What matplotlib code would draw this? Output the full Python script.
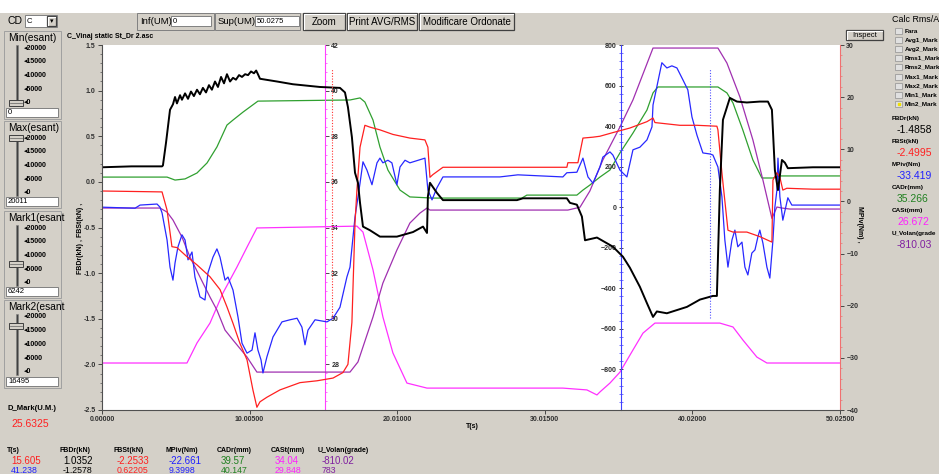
import matplotlib
matplotlib.use('Agg')
import matplotlib.pyplot as plt
from matplotlib.patches import Rectangle
from matplotlib.ticker import MultipleLocator, FixedLocator, FormatStrFormatter

plt.rcParams['font.family'] = ['Liberation Sans', 'DejaVu Sans']

# ---- data (time in s) ----
t_fbdr = [0, 2.0, 4.07, 4.13, 4.34, 4.61, 4.81, 4.95, 5.08, 5.29, 5.42, 5.63, 5.83, 6.03, 6.23,
          6.44, 6.64, 6.84, 7.05, 7.25, 7.45, 7.66, 7.86, 8.07, 8.27, 8.47, 8.68, 8.88, 9.08,
          9.29, 9.49, 9.70, 9.90, 10.10, 10.30, 10.45, 10.57, 10.71, 11.86, 12.94, 14.77, 16.13,
          16.47, 16.67, 16.94, 17.15, 17.35, 17.49, 17.69, 18.16, 18.84, 19.99, 21.08, 21.76,
          22.03, 22.09, 22.23, 22.70, 23.11, 24.74, 28.13, 28.53, 31.51, 31.72, 32.19, 32.53,
          32.74, 33.55, 34.63, 35.31, 35.78, 36.46, 36.94, 37.35, 37.61, 38.29, 39.65, 40.53,
          41.41, 41.68, 41.88, 42.09, 42.56, 43.04, 43.71, 44.59, 45.14, 45.41, 45.61, 45.82,
          46.09, 46.29, 46.49, 48.19, 50.02]
fbdr = [0.16, 0.17, 0.17, 0.18, 0.43, 0.79, 0.85, 0.93, 0.86, 0.95, 0.90, 0.97, 0.91, 0.99, 0.94,
        1.01, 0.96, 1.03, 0.98, 1.06, 1.01, 1.10, 1.04, 1.15, 1.08, 1.18, 1.10, 1.14, 1.12,
        1.17, 1.15, 1.18, 1.17, 1.21, 1.19, 1.22, 1.18, 1.13, 1.10, 1.07, 1.04, 1.03,
        0.98, 0.82, 0.49, 0.10, -0.01, -0.23, -0.49, -0.53, -0.60, -0.60, -0.55, -0.49,
        -0.56, -0.16, -0.01, -0.12, -0.20, -0.20, -0.20, -0.18, -0.18, -0.23, -0.25, -0.38,
        -0.64, -0.61, -0.71, -0.82, -0.94, -1.15, -1.33, -1.48, -1.42, -1.44, -1.37, -1.29,
        -1.25, -1.25, -0.09, 0.68, 0.92, 0.88, 0.87, 0.88, 0.88, 0.79, 0.13, -0.09,
        0.24, 0.21, 0.15, 0.16, 0.16]

t_fbst = [0, 4.07, 4.41, 4.74, 5.08, 5.76, 6.44, 7.32, 8.00, 8.47, 8.88, 9.35, 9.83, 10.23, 10.50,
          10.71, 11.18, 12.06, 13.42, 14.57, 15.66, 16.33, 16.67, 16.94, 17.15, 17.28, 17.49,
          17.82, 18.16, 18.84, 19.72, 20.87, 21.89, 22.09, 22.23, 22.43, 23.11, 31.51, 31.58,
          32.26, 32.60, 33.28, 33.75, 34.63, 35.78, 36.94, 37.35, 37.48, 39.17, 40.33, 41.68,
          41.75, 42.02, 42.09, 42.43, 42.77, 43.71, 44.59, 45.41, 45.48, 45.75, 45.95, 46.15,
          46.42, 48.19, 50.02]
fbst = [-0.10, -0.11, -0.31, -0.71, -0.72, -0.82, -0.91, -1.04, -1.18, -1.37, -1.55, -1.77, -1.95,
        -2.28, -2.47, -2.41, -2.36, -2.28, -2.20, -2.18, -2.15, -2.09, -2.00, -1.54, -0.45,
        -0.09, 0.38, 0.62, 0.60, 0.57, 0.52, 0.48, 0.46, 0.38, 0.05, 0.08, 0.16, 0.16, 0.21,
        0.21, 0.48, 0.49, 0.50, 0.54, 0.59, 0.66, 0.70, 0.65, 0.62, 0.62, 0.61, 0.57, 0.10,
        -0.01, -0.53, -0.55, -0.55, -0.60, -0.66, 0.02, 0.10, 0.05, -0.09, -0.07, -0.08, -0.08]

t_mpiv = [0, 2.24, 2.58, 3.73, 3.93, 4.07, 4.41, 4.61, 4.81, 4.95, 5.15, 5.42, 5.63, 5.83, 6.10,
          6.30, 6.64, 6.98, 7.18, 7.52, 7.79, 8.00, 8.34, 8.54, 8.88, 9.22, 9.49, 9.83, 10.17,
          10.37, 10.57, 10.78, 10.91, 11.18, 11.59, 12.20, 12.74, 13.22, 13.55, 13.76, 13.96,
          14.44, 15.25, 15.66, 16.13, 16.60, 16.81, 17.15, 17.49, 17.69, 17.96, 18.30, 18.64,
          18.84, 19.04, 19.38, 19.65, 19.99, 20.20, 20.54, 20.87, 21.89, 22.09, 22.37, 22.70,
          23.11, 26.97, 28.19, 31.24, 31.51, 32.19, 32.60, 32.94, 33.28, 33.75, 33.95, 34.43,
          34.63, 35.11, 35.58, 35.99, 36.46, 36.94, 37.28, 37.35, 37.61, 37.95, 38.29, 38.63,
          38.97, 39.38, 39.71, 39.99, 40.33, 40.73, 41.21, 41.41, 41.75, 42.02, 42.22, 42.43,
          42.70, 42.90, 43.10, 43.38, 43.58, 43.78, 44.05, 44.26, 44.46, 44.59, 44.80, 45.07,
          45.27, 45.48, 45.61, 45.75, 45.82, 45.95, 46.15, 46.49, 46.76, 47.31, 50.02]
mpiv = [-1.1, -1.3, -0.7, -0.5, -1.1, -2.2, -7.4, -12.6, -15.1, -11.8, -8.7, -6.4, -7.4, -11.2,
        -9.7, -14.5, -18.3, -18.9, -13.7, -10.7, -9.1, -10.7, -15.1, -14.5, -17.0, -22.2, -27.2,
        -29.1, -28.5, -25.2, -28.5, -30.4, -32.9, -29.8, -26.0, -23.1, -22.7, -22.4, -24.1,
        -27.5, -24.7, -22.7, -23.1, -22.4, -20.3, -14.5, -12.6, -3.0, 3.5, 7.6, 6.0, 3.2, 7.4,
        8.3, 7.4, 7.9, 7.4, 3.2, 6.6, 7.9, 7.4, 8.3, 2.2, 0.3, 2.6, 4.7, 4.7, 5.1, 4.7, 5.5,
        5.6, 8.3, 4.7, 3.5, 6.6, 8.5, 9.5, 8.9, 6.0, 4.7, 9.9, 10.4, 11.8, 14.3, 18.5, 22.0,
        26.6, 25.6, 26.0, 25.6, 23.3, 21.4, 16.2, 12.7, 9.3, 9.1, 8.9, 6.6, 0.9, -7.4, -12.6,
        -7.4, -5.5, -8.7, -7.8, -12.6, -14.1, -9.9, -9.3, -6.8, -5.5, -8.0, -12.6, -14.7, -7.4,
        -1.1, 2.2, 8.3, 0.9, -3.6, 0.7, -0.7, -0.7, -0.7]

t_cadr = [0, 4.41, 4.95, 5.63, 6.44, 7.12, 7.79, 8.47, 8.88, 9.56, 10.57, 16.81, 17.49, 17.82, 18.37,
          18.84, 19.38, 20.20, 20.87, 22.43, 28.46, 28.80, 32.19, 32.60, 33.07, 33.75, 34.43,
          35.11, 35.99, 36.94, 37.35, 37.68, 41.75, 42.36, 42.77, 43.44, 44.12, 44.73, 45.48,
          45.95, 50.02]
cadr = [36.21, 36.21, 36.08, 36.13, 36.39, 36.83, 37.53, 38.49, 38.71, 39.06, 39.54, 39.59, 39.68,
        39.50, 38.71, 37.53, 36.52, 35.64, 35.34, 35.29, 35.29, 35.42, 35.42, 35.64, 35.86,
        36.21, 36.52, 37.27, 38.14, 39.15, 39.90, 40.16, 40.16, 39.90, 39.46, 38.27, 36.96,
        36.17, 36.17, 36.26, 36.26]

t_cast = [0, 5.76, 6.44, 7.32, 8.20, 9.15, 9.83, 10.50, 17.28, 17.69, 18.37, 19.04, 19.72, 20.67,
          22.03, 31.24, 32.87, 33.55, 33.75, 34.43, 35.11, 35.99, 36.67, 37.48, 41.88, 42.77,
          43.44, 44.39, 45.07, 45.95, 50.02]
cast = [28.06, 28.06, 28.94, 29.81, 31.13, 32.27, 33.14, 33.98, 34.06, 33.80, 32.14, 30.08, 28.50,
        27.18, 26.96, 26.96, 26.88, 26.66, 26.79, 27.18, 27.66, 28.63, 29.37, 29.81, 29.81,
        29.64, 29.07, 28.32, 28.06, 28.06, 28.06]

t_volan = [0, 3.93, 4.41, 4.81, 5.42, 5.96, 6.64, 7.32, 7.79, 8.34, 8.88, 9.83, 10.50, 16.81, 17.35,
           17.69, 18.37, 19.04, 19.99, 20.87, 21.55, 22.03, 22.23, 31.58, 32.40, 33.07, 33.95,
           35.11, 35.99, 37.35, 41.75, 42.36, 43.24, 44.12, 44.80, 45.41, 45.75, 46.09, 46.63,
           50.02]
volan = [-4, -4, -24, -63, -147, -245, -344, -443, -507, -606, -655, -739, -813, -813, -763,
         -689, -541, -374, -211, -78, -29, -4, -14, -14, 0, 80, 233, 396, 529, 785, 785, 711,
         544, 332, 134, -55, 1, -4, -9, -9]

mark1_t = 15.605
mark2_t = 41.238
x_ticks = [0.0, 10.005, 20.01, 30.015, 40.02, 50.025]

# ---- figure ----
BG = '#D4D0C8'
fig = plt.figure(figsize=(9.39, 4.74), dpi=100, facecolor=BG)

# overlay in screen pixels for the dialog chrome
ui = fig.add_axes([0, 0, 1, 1])
ui.set_xlim(0, 939)
ui.set_ylim(474, 0)
ui.axis('off')


def rect(x0, y0, x1, y1, fc='white', ec='#808080', lw=0.7):
    ui.add_patch(Rectangle((x0, y0), x1 - x0, y1 - y0, facecolor=fc, edgecolor=ec, lw=lw))


def button(x0, y0, x1, y1, s, size=7):
    rect(x0, y0, x1, y1, fc=BG, ec='#404040', lw=0.9)
    ui.plot([x0 + 1, x0 + 1, x1 - 1], [y1 - 1, y0 + 1, y0 + 1], color='white', lw=0.8)
    ui.text((x0 + x1) / 2, (y0 + y1) / 2 + 0.5, s, fontsize=size, ha='center', va='center')


def label(x, y, s, size=6, color='black', weight='normal', ha='left'):
    ui.text(x, y, s, fontsize=size, color=color, fontweight=weight, ha=ha, va='center')


rect(0, 0, 939, 13, fc='white', ec='none')

# top bar
label(8, 21, 'CD', size=7.5)
rect(25, 15, 57, 27)
label(27, 21, 'C', size=5.5)
button(47, 16, 56, 26, '▾', size=5)
rect(137, 13, 214, 30, fc=BG, ec='#808080')
label(140, 21.5, 'Inf(UM)', size=6.8)
rect(171, 16, 211, 26)
label(173, 21, '0', size=5.5)
rect(215, 13, 300, 30, fc=BG, ec='#808080')
label(218, 21.5, 'Sup(UM)', size=6.8)
rect(255, 16, 299, 26)
label(257, 21, '50.0275', size=5.5)
button(303, 13, 345, 30, 'Zoom')
button(347, 13, 417, 30, 'Print AVG/RMS')
button(419, 13, 514, 30, 'Modificare Ordonate')
label(67, 36, 'C_Vinaj static St_Dr 2.asc', size=5, weight='bold')

# left slider groups
groups = [('Min(esant)', 31, 119, 103, '0'),
          ('Max(esant)', 121, 208, 138, '20011'),
          ('Mark1(esant', 211, 298, 264, '6242'),
          ('Mark2(esant', 300, 388, 326, '16495')]
for title, top, bot, thumb, val in groups:
    rect(4, top, 61, bot, fc=BG, ec='#A0A0A0')
    label(8, top + 7, title, size=7.3)
    ys = [top + 17 + i * 13.7 for i in range(5)]
    rect(15.5, ys[0] - 3, 17.5, ys[-1] + 3, fc='#404040', ec='#808080', lw=0.4)
    for yy, tl in zip(ys, ['20000', '15000', '10000', '5000', '0']):
        label(24, yy, '◂' + tl, size=5, weight='bold')
    rect(9, thumb - 3, 23, thumb + 3, fc=BG, ec='#404040', lw=0.7)
    ui.plot([10, 22], [thumb, thumb], color='#606060', lw=0.5)
    rect(6, bot - 11, 58, bot - 2)
    label(8, bot - 6.5, val, size=5.5)

label(7, 409, 'D_Mark(U.M.)', size=5.5, weight='bold')
label(11, 424, '25.6325', size=7.5, color='#FF2020')

# bottom value table
cols = [7, 59, 113, 165, 217, 271, 318]
heads = ['T(s)', 'FBDr(kN)', 'FBSt(kN)', 'MPiv(Nm)', 'CADr(mm)', 'CASt(mm)', 'U_Volan(grade)']
row1 = ['15.605', '1.0352', '-2.2533', '-22.661', '39.57', '34.04', '-810.02']
row2 = ['41.238', '-1.2578', '0.62205', '9.3998', '40.147', '29.848', '783']
c1 = ['#FF2020', 'black', '#FF2020', '#2020FF', '#208020', '#FF20FF', '#8020A0']
c2 = ['#2020FF', 'black', '#FF2020', '#2020FF', '#208020', '#FF20FF', '#8020A0']
for x, h, a, b, ca, cb in zip(cols, heads, row1, row2, c1, c2):
    label(x, 451, h, size=5, weight='bold')
    label(x + 4, 461.5, a, size=7, color=ca)
    label(x + 4, 470.3, b, size=6.3, color=cb)

# right panel
button(846, 30, 883, 40, 'Inspect', size=5.5)
label(892, 19, 'Calc Rms/A', size=6.4)
radios = ['Fara', 'Avg1_Mark', 'Avg2_Mark', 'Rms1_Mark', 'Rms2_Mark',
          'Max1_Mark', 'Max2_Mark', 'Min1_Mark', 'Min2_Mark']
for i, r in enumerate(radios):
    yy = 31 + i * 9.1
    rect(895, yy - 3, 902, yy + 3, fc='#E0E0E0', ec='#909090', lw=0.5)
    label(905, yy, r, size=4.6, weight='bold')
ui.plot([898.5], [31 + 8 * 9.1], marker='s', ms=1.5, color='#F0E000')
vals = [('FBDr(kN)', '-1.4858', 'black'), ('FBSt(kN)', '-2.4995', '#FF2020'),
        ('MPiv(Nm)', '-33.419', '#2020FF'), ('CADr(mm)', '35.266', '#208020'),
        ('CASt(mm)', '26.672', '#FF20FF'), ('U_Volan(grade', '-810.03', '#8020A0')]
for i, (h, v, c) in enumerate(vals):
    label(892, 118 + i * 23.1, h, size=4.6, weight='bold')
    label(897, 130 + i * 23.0, v, size=7.5, color=c)

# white plot area
rect(102, 45, 840, 410, fc='white', ec='none')
label(466, 426, 'T(s)', size=5, weight='bold')
ui.text(80, 237, 'FBDr(kN) , FBSt(kN) , ', fontsize=5, fontweight='bold', rotation=90,
        ha='center', va='center')
ui.text(860, 225, 'MPiv(Nm) , ', fontsize=5, fontweight='bold', rotation=270,
        ha='center', va='center')

# ---- plot axes ----
W, H = 939, 474
pos = [102 / W, (H - 410) / H, 738 / W, 365 / H]
ax = fig.add_axes(pos)
ax_m = ax.twinx()
ax_b = ax.twinx()
ax_r = ax.twinx()
ax.set_zorder(5)
ax.patch.set_visible(False)

tick_kw = dict(labelsize=5, width=0.6, length=3, pad=1.5)
for a in (ax, ax_m, ax_b, ax_r):
    for s in a.spines.values():
        s.set_visible(False)

# host: FBDr / FBSt
ax.set_xlim(0, 50.025)
ax.set_ylim(-2.5, 1.5)
ax.spines['left'].set_visible(True)
ax.spines['bottom'].set_visible(True)
ax.spines['left'].set_color('#505050')
ax.spines['bottom'].set_color('#505050')
ax.set_xticks(x_ticks)
ax.set_xticklabels([f'{v:.5f}' for v in x_ticks], fontweight='bold')
ax.yaxis.set_major_locator(MultipleLocator(0.5))
ax.yaxis.set_minor_locator(MultipleLocator(0.1))
ax.yaxis.set_major_formatter(FormatStrFormatter('%.1f'))
ax.tick_params(axis='both', which='major', colors='#303030', **tick_kw)
ax.tick_params(axis='y', which='minor', length=1.5, width=0.5, colors='#505050')

# CADr / CASt axis (magenta)
MAG = '#FF40FF'
ax_m.set_ylim(26, 42)
ax_m.spines['right'].set_visible(True)
ax_m.spines['right'].set_position(('axes', (325 - 102) / 738))
ax_m.spines['right'].set_color(MAG)
ax_m.yaxis.set_major_locator(FixedLocator(list(range(28, 43, 2))))
ax_m.yaxis.set_minor_locator(MultipleLocator(0.4))
ax_m.tick_params(axis='y', which='major', colors='#303030', **tick_kw)
ax_m.tick_params(axis='y', which='minor', length=1.5, width=0.5, color=MAG)
for tl in ax_m.yaxis.get_ticklines():
    tl.set_color(MAG)

# U_Volan axis (blue spine)
BLU = '#4040FF'
ax_b.set_ylim(-1000, 800)
ax_b.spines['left'].set_visible(True)
ax_b.spines['left'].set_position(('axes', (621 - 102) / 738))
ax_b.spines['left'].set_color(BLU)
ax_b.yaxis.set_ticks_position('left')
ax_b.yaxis.set_label_position('left')
ax_b.yaxis.set_major_locator(FixedLocator(list(range(-800, 801, 200))))
ax_b.yaxis.set_minor_locator(MultipleLocator(40))
ax_b.tick_params(axis='y', which='major', colors='#303030', direction='inout', **tick_kw)
ax_b.tick_params(axis='y', which='minor', length=2.5, width=0.5, color=BLU, direction='inout')
for tl in ax_b.yaxis.get_ticklines():
    tl.set_color(BLU)

# MPiv axis (red, right)
RED = '#F07070'
ax_r.set_ylim(-40, 30)
ax_r.spines['right'].set_visible(True)
ax_r.spines['right'].set_color(RED)
ax_r.yaxis.set_major_locator(MultipleLocator(10))
ax_r.yaxis.set_minor_locator(MultipleLocator(2))
ax_r.tick_params(axis='y', which='major', colors='#303030', **tick_kw)
ax_r.tick_params(axis='y', which='minor', length=1.5, width=0.5, color=RED)
for tl in ax_r.yaxis.get_ticklines():
    tl.set_color(RED)

for a in (ax, ax_m, ax_b, ax_r):
    for lab in a.get_yticklabels():
        lab.set_fontweight('bold')

# curves
ax_m.plot(t_cadr, cadr, color='#30A030', lw=0.9)
ax_m.plot(t_cast, cast, color='#FF30FF', lw=0.9)
ax_b.plot(t_volan, volan, color='#A030B0', lw=0.9)
ax_r.plot(t_mpiv, mpiv, color='#2828FF', lw=0.9)
ax.plot(t_fbst, fbst, color='#FF2020', lw=0.9)
ax.plot(t_fbdr, fbdr, color='black', lw=1.4)

# cursor marks
ax.vlines(mark1_t, 0.252, 0.937, transform=ax.get_xaxis_transform(),
          colors='#FF3030', linestyles=(0, (1, 1.5)), lw=0.8)
ax.vlines(mark2_t, 0.252, 0.937, transform=ax.get_xaxis_transform(),
          colors='#5050FF', linestyles=(0, (1, 1.5)), lw=0.8)

fig.savefig('out.png', dpi=100, facecolor=BG)
